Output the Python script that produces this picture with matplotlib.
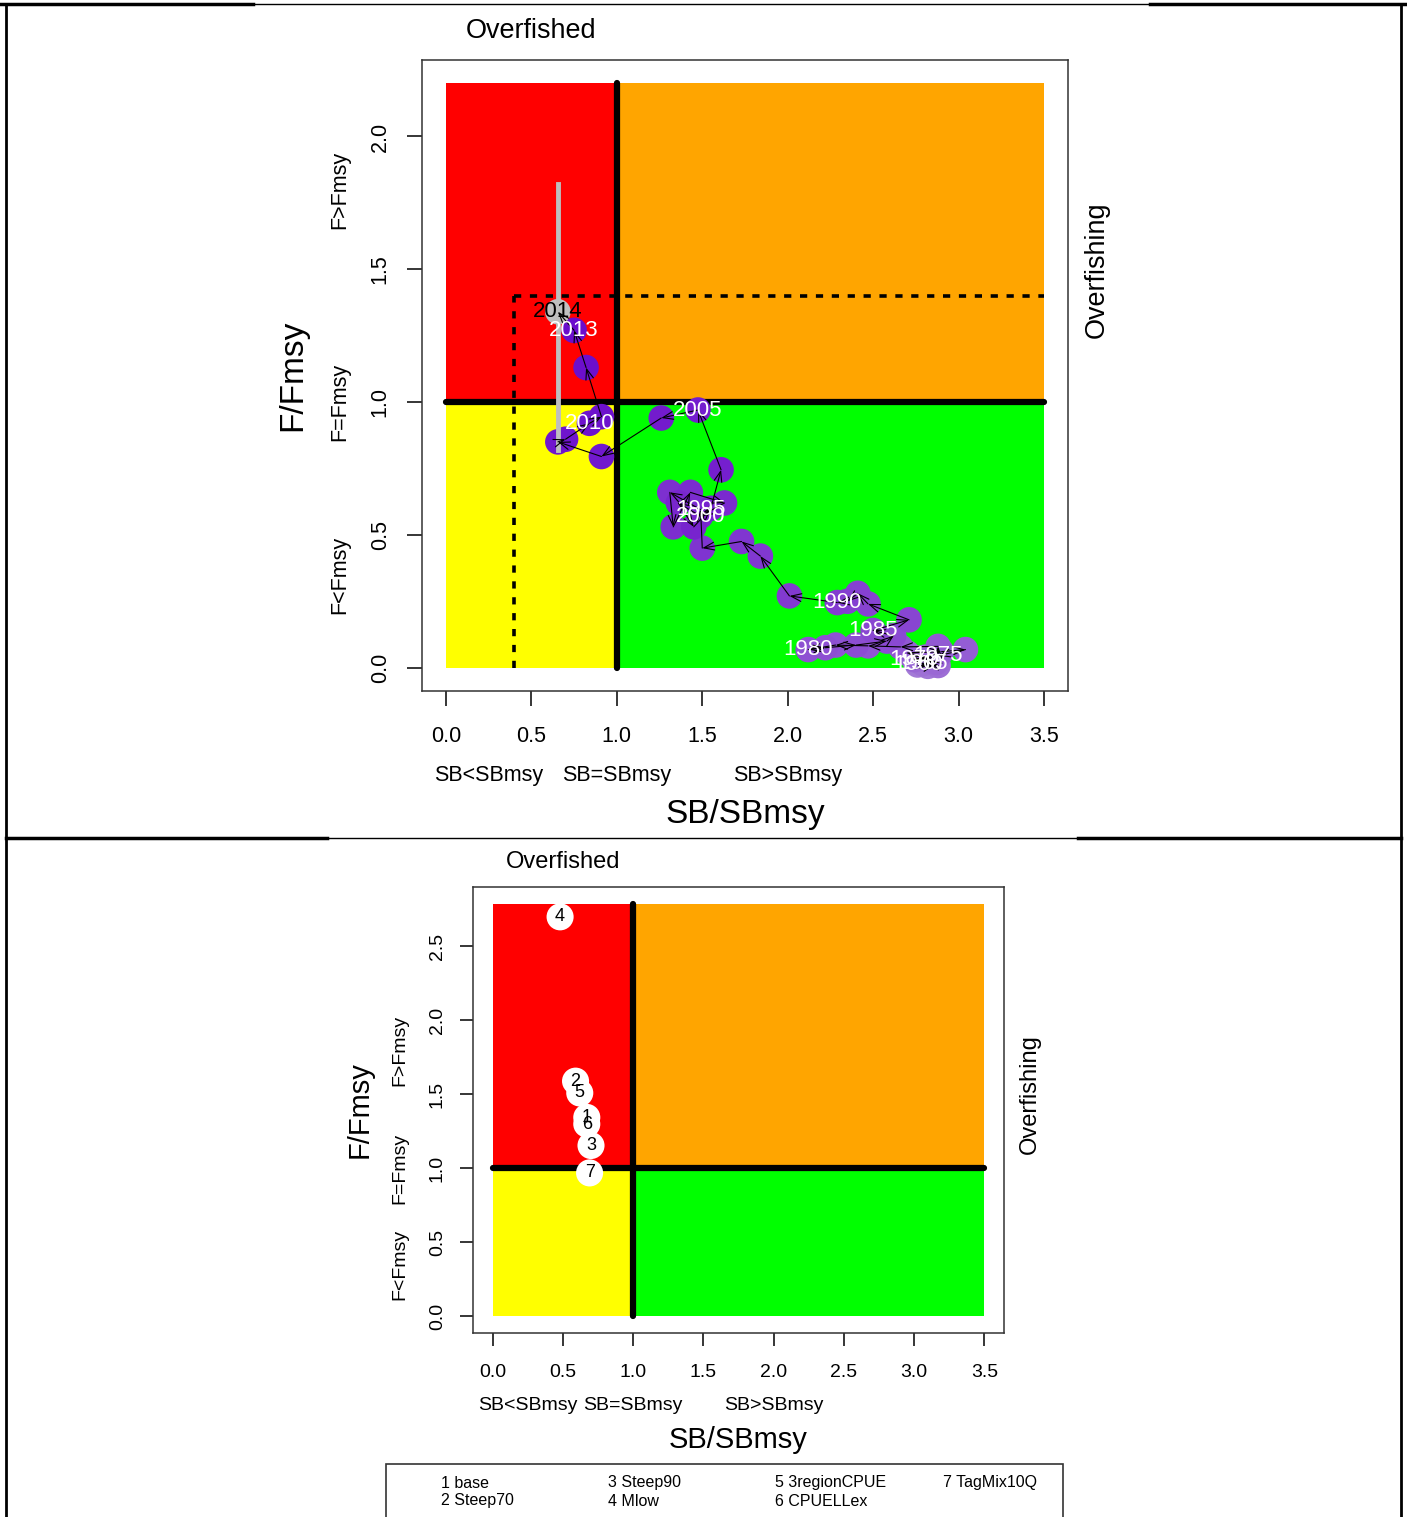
import matplotlib.pyplot as plt
from matplotlib.patches import Rectangle
from matplotlib.lines import Line2D
import matplotlib.transforms as mtransforms
import numpy as np

plt.rcParams['font.family'] = ['Liberation Sans', 'DejaVu Sans']

# --- stock trajectory (top panel) ---
years = list(range(1960, 2015))
sb_ratio = [2.76, 2.82, 2.86, 2.80, 2.84, 2.79, 2.88, 2.83, 2.77, 2.87,
            2.74, 2.81, 2.70, 2.90, 3.04, 2.88, 2.88, 2.66, 2.47, 2.28,
            2.12, 2.22, 2.40, 2.58, 2.62, 2.50, 2.71, 2.47, 2.41, 2.35,
            2.29, 2.01, 1.84, 1.73, 1.50, 1.49, 1.31, 1.33, 1.43, 1.63,
            1.49, 1.36, 1.45, 1.55, 1.61, 1.475, 1.26, 0.91, 0.655, 0.70,
            0.84, 0.91, 0.82, 0.75, 0.655]
f_ratio = [0.010, 0.005, 0.012, 0.020, 0.030, 0.015, 0.008, 0.025, 0.035, 0.020,
           0.030, 0.040, 0.055, 0.060, 0.068, 0.045, 0.080, 0.078, 0.082, 0.085,
           0.068, 0.075, 0.085, 0.100, 0.120, 0.140, 0.180, 0.240, 0.280, 0.250,
           0.245, 0.270, 0.420, 0.475, 0.450, 0.595, 0.660, 0.530, 0.660, 0.620,
           0.570, 0.620, 0.530, 0.600, 0.745, 0.970, 0.940, 0.795, 0.850, 0.860,
           0.920, 0.945, 1.130, 1.270, 1.340]
labelled_years = [1960, 1965, 1970, 1975, 1980, 1985, 1990, 1995, 2000, 2005, 2010, 2013]
f_ci_last = [0.82, 1.82]
sb_limit = 0.4
f_limit = 1.4
top_fmax = 2.2

# --- final-year status by model run (bottom panel) ---
run_ids = [1, 2, 3, 4, 5, 6, 7]
run_names = ['base', 'Steep70', 'Steep90', 'Mlow', '3regionCPUE', 'CPUELLex', 'TagMix10Q']
run_sb = [0.67, 0.59, 0.70, 0.48, 0.62, 0.67, 0.69]
run_f = [1.345, 1.59, 1.155, 2.70, 1.51, 1.30, 0.97]
bottom_fmax = 2.79

sb_max = 3.5
xticks = [0.0, 0.5, 1.0, 1.5, 2.0, 2.5, 3.0, 3.5]
W, H = 1407, 1517


def fx(px):
    return px / W


def fy(py):
    return 1 - py / H


fig = plt.figure(figsize=(W / 100, H / 100), dpi=100)


def kobe_axes(box, fmax, yticks, sizes, ypx):
    left, top, right, bottom = box
    ax = fig.add_axes([fx(left), fy(bottom), fx(right) - fx(left), fy(top) - fy(bottom)])
    ax.set_xlim(-0.04 * sb_max, sb_max * 1.04)
    ax.set_ylim(-0.04 * fmax, fmax * 1.04)
    ax.add_patch(Rectangle((0, 1), 1, fmax - 1, color='#FF0000', lw=0))
    ax.add_patch(Rectangle((1, 1), sb_max - 1, fmax - 1, color='#FFA500', lw=0))
    ax.add_patch(Rectangle((0, 0), 1, 1, color='#FFFF00', lw=0))
    ax.add_patch(Rectangle((1, 0), sb_max - 1, 1, color='#00FF00', lw=0))
    ax.plot([1, 1], [0, fmax], color='black', lw=4.5, solid_capstyle='round', zorder=3)
    ax.plot([0, sb_max], [1, 1], color='black', lw=4.5, solid_capstyle='round', zorder=3)
    ax.set_xticks(xticks)
    ax.set_xticklabels([f'{v:.1f}' for v in xticks])
    ax.set_yticks(yticks)
    ax.set_yticklabels([f'{v:.1f}' for v in yticks], rotation=90, va='center')
    tick, lab, big, pads, tlen = sizes
    ax.tick_params(axis='both', direction='out', length=tlen, width=1.1,
                   labelsize=tick, colors='black')
    ax.tick_params(axis='x', pad=pads[0])
    ax.tick_params(axis='y', pad=pads[1])
    for s in ax.spines.values():
        s.set_linewidth(1.1)
        s.set_color('#333333')
    xt = mtransforms.blended_transform_factory(ax.transData, fig.transFigure)
    yt = mtransforms.blended_transform_factory(fig.transFigure, ax.transData)
    sub_y, big_y, fsub_x, fbig_x, over_y, overing_x = ypx
    for xv, s in zip([0.25, 1.0, 2.0], ['SB<SBmsy', 'SB=SBmsy', 'SB>SBmsy']):
        ax.text(xv, fy(sub_y), s, transform=xt, ha='center', va='center', fontsize=lab)
    for yv, s in zip([0.35, 1.0, 1.8], ['F<Fmsy', 'F=Fmsy', 'F>Fmsy']):
        ax.text(fx(fsub_x), yv, s, transform=yt, ha='center', va='center',
                rotation=90, fontsize=lab)
    ax.text(0.5, fy(big_y), 'SB/SBmsy', transform=mtransforms.blended_transform_factory(
        ax.transAxes, fig.transFigure), ha='center', va='center', fontsize=big)
    ax.text(fx(fbig_x), 0.5, 'F/Fmsy', transform=mtransforms.blended_transform_factory(
        fig.transFigure, ax.transAxes), ha='center', va='center', rotation=90, fontsize=big)
    ax.text(0.5, fy(over_y), 'Overfished', transform=xt, ha='center', va='center',
            fontsize=big * 0.81)
    ax.text(fx(overing_x), 1.5, 'Overfishing', transform=yt, ha='center', va='center',
            rotation=90, fontsize=big * 0.81)
    return ax


# top panel: trajectory
ax1 = kobe_axes((422, 60, 1068, 691), top_fmax, [0.0, 0.5, 1.0, 1.5, 2.0],
                (15.5, 15.5, 24, (15, 12), 10.5),
                (776, 815, 340, 293, 31, 1097))
ax1.plot([sb_limit, sb_limit], [0, f_limit], color='black', lw=2.6,
         linestyle=(0, (2.0, 2.4)), zorder=3)
ax1.plot([sb_limit, sb_max], [f_limit, f_limit], color='black', lw=2.6,
         linestyle=(0, (2.0, 2.4)), zorder=3)

n = len(years)
shade = np.linspace(0, 1, n - 1)
light = np.array([0.64, 0.48, 0.84])
dark = np.array([0.42, 0.05, 0.80])
cols = [tuple(light + (dark - light) * s) for s in shade]
ax1.scatter(sb_ratio[:-1], f_ratio[:-1], s=340, c=cols, edgecolors='none', zorder=4)
ax1.scatter(sb_ratio[-1:], f_ratio[-1:], s=340, c='#C0C0C0', edgecolors='none', zorder=5)
ax1.plot([sb_ratio[-1]] * 2, f_ci_last, color='#BEBEBE', lw=3.5, zorder=6)
for i in range(n - 1):
    ax1.annotate('', xy=(sb_ratio[i + 1], f_ratio[i + 1]), xytext=(sb_ratio[i], f_ratio[i]),
                 arrowprops=dict(arrowstyle='->,head_length=0.75,head_width=0.28',
                                 lw=0.8, color='black', shrinkA=0, shrinkB=0),
                 zorder=7)
for yr, xv, yv in zip(years, sb_ratio, f_ratio):
    if yr in labelled_years:
        ax1.text(xv, yv, str(yr), color='white', fontsize=16, ha='center',
                 va='center', zorder=8)
ax1.text(sb_ratio[-1], f_ratio[-1], str(years[-1]), color='black', fontsize=16,
         ha='center', va='center', zorder=8)

# bottom panel: final-year status by run
ax2 = kobe_axes((473, 887, 1004, 1333), bottom_fmax, [0.0, 0.5, 1.0, 1.5, 2.0, 2.5],
                (14, 14, 21, (12.5, 10), 9.5),
                (1406, 1440, 400, 360, 862, 1030))
ax2.scatter(run_sb, run_f, s=380, c='white', edgecolors='none', zorder=5)
for rid, xv, yv in zip(run_ids, run_sb, run_f):
    ax2.text(xv, yv, str(rid), fontsize=13, ha='center', va='center', zorder=6)

# legend of run names
fig.add_artist(Rectangle((fx(386), fy(1525)), fx(1063) - fx(386), fy(1464) - fy(1525),
                         transform=fig.transFigure, fill=False, lw=1.2, ec='#333333'))
col_x = [441, 608, 775, 943]
row_y = [1483, 1501]
for k, (rid, name) in enumerate(zip(run_ids, run_names)):
    fig.text(fx(col_x[k // 2]), fy(row_y[k % 2]), f'{rid} {name}', fontsize=11.5,
             ha='left', va='center')

# table frame around the two panels
frame = [((0, 253), (4, 4), 2.5), ((253, 1150), (4, 4), 1.0), ((1150, 1407), (4, 4), 2.5),
         ((6, 327), (838, 838), 2.5), ((327, 1078), (838, 838), 1.0),
         ((1078, 1401), (838, 838), 2.5),
         ((6, 6), (4, 1517), 2.0), ((1401, 1401), (4, 1517), 2.0)]
for xs, ys, lw in frame:
    fig.add_artist(Line2D([fx(xs[0]), fx(xs[1])], [fy(ys[0]), fy(ys[1])],
                          transform=fig.transFigure, color='black', lw=lw))

fig.savefig('out.png', dpi=100)
